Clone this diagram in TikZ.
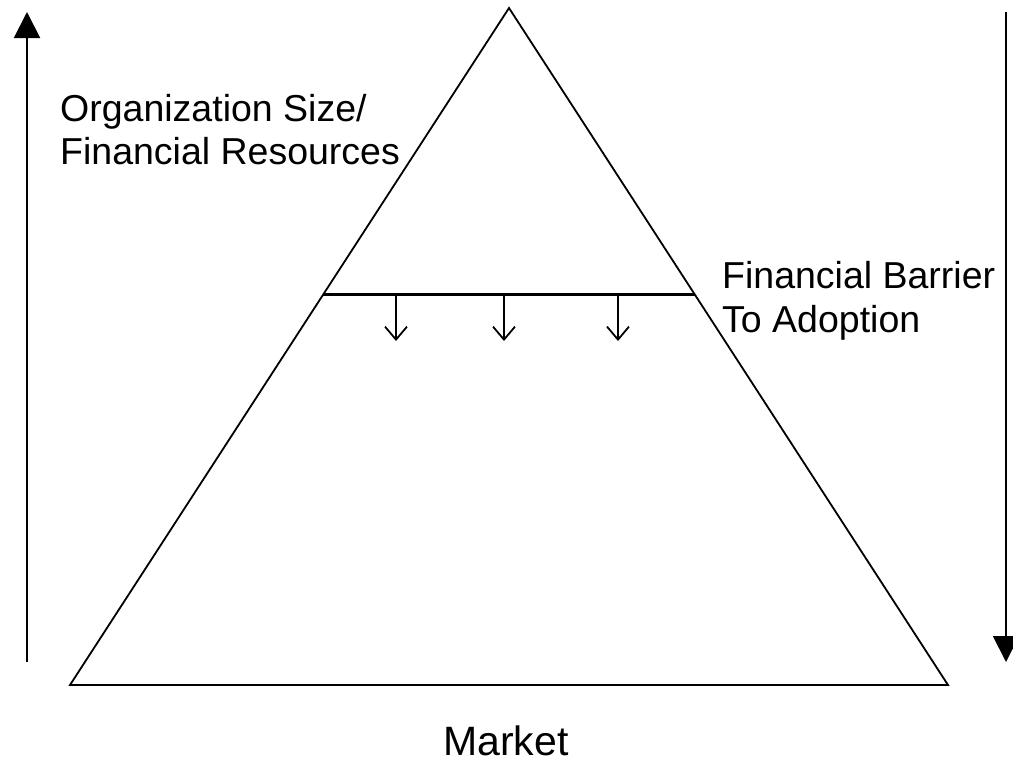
\documentclass[tikz,border=0pt]{standalone}
\usepackage{fontspec}
\setmainfont{Liberation Sans}
\usetikzlibrary{arrows.meta}
\begin{document}
\begin{tikzpicture}[x=1pt,y=-1pt,
  edge/.style={line width=1.8pt, line join=miter},
  barrier/.style={line width=3pt},
  bigarrow/.style={line width=2pt, -{Triangle[length=26pt,width=26pt]}},
  smallarrow/.style={line width=1.8pt, -{Straight Barb[length=13pt,width=22pt,line width=1.8pt]}},
  lbl/.style={inner sep=0pt, font=\fontsize{37.5}{44}\selectfont, align=left}
]
\useasboundingbox (0,0) rectangle (1013,764);
% triangle
\coordinate (apex) at (509,8);
\coordinate (bl) at (70,685);
\coordinate (br) at (948,685);
\draw[edge] (apex) -- (bl) -- (br) -- cycle;
% barrier
\coordinate (b1) at (323,294);
\coordinate (b2) at (695,294);
\draw[barrier] (b1) -- (b2);
\foreach \x/\n in {396/a,504/b,618/c}{
  \coordinate (s\n) at (\x,294);
  \coordinate (e\n) at (\x,341);
  \draw[smallarrow] (s\n) -- (e\n);
}
% side arrows
\coordinate (l0) at (27,662);
\coordinate (l1) at (27,12);
\draw[bigarrow] (l0) -- (l1);
\coordinate (r0) at (1006,12);
\coordinate (r1) at (1006,662);
\draw[bigarrow] (r0) -- (r1);
% labels
\node[lbl, anchor=base west] (org1) at (60,121) {Organization Size/};
\node[lbl, anchor=base west] (org2) at (60,164) {Financial Resources};
\node[lbl, anchor=base west] (fin1) at (722,288) {Financial Barrier};
\node[lbl, anchor=base west] (fin2) at (722,332) {To Adoption};
\node[inner sep=0pt, font=\fontsize{41}{46}\selectfont, anchor=base] (mkt) at (506,755) {Market};
\end{tikzpicture}
\end{document}
